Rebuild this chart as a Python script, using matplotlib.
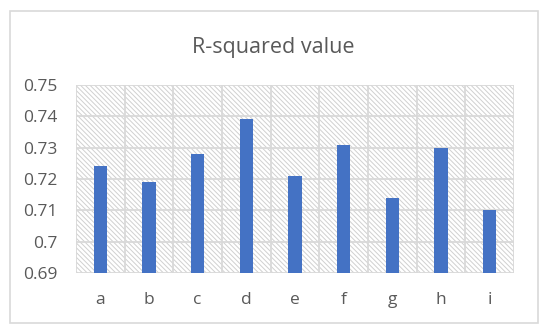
import numpy as np
import matplotlib.pyplot as plt
from matplotlib.patches import Rectangle

categories = ['a', 'b', 'c', 'd', 'e', 'f', 'g', 'h', 'i']
r2 = [0.724, 0.719, 0.728, 0.739, 0.721, 0.731, 0.714, 0.730, 0.710]
yticks = [0.69, 0.70, 0.71, 0.72, 0.73, 0.74, 0.75]
ylabels = ['0.69', '0.7', '0.71', '0.72', '0.73', '0.74', '0.75']

plt.rcParams['font.family'] = ['Open Sans', 'DejaVu Sans']
plt.rcParams['hatch.linewidth'] = 0.7
plt.rcParams['hatch.color'] = '#d0d0d0'

fig = plt.figure(figsize=(5.5, 3.35), dpi=100)
W, H = 550, 335
ax = fig.add_axes([76 / W, 1 - 273 / H, (514 - 76) / W, (273 - 85) / H])

# outer chart border
fig.patches.append(Rectangle((9.5 / W, 1 - 323 / H), (538 - 9.5) / W, (323 - 11) / H,
                             transform=fig.transFigure, fill=False,
                             edgecolor='#d9d9d9', linewidth=1.2))

x = np.arange(len(categories))
n = len(categories)
ax.set_xlim(-0.5, n - 0.5)
ax.set_ylim(0.69, 0.75)

# hatched plot-area background
ax.add_patch(Rectangle((0, 0), 1, 1, transform=ax.transAxes, facecolor='white',
                       edgecolor='#d0d0d0', hatch='\\' * 7, linewidth=0, zorder=0))

for yv in yticks:
    ax.axhline(yv, color='#d9d9d9', linewidth=1.3, zorder=1)
for xv in np.arange(-0.5, n, 1.0):
    ax.axvline(xv, color='#d9d9d9', linewidth=1.3, zorder=1)

ax.bar(x, [v - 0.69 for v in r2], bottom=0.69, width=0.27, color='#4472C4', zorder=3)

ax.set_xticks(x)
ax.set_xticklabels(categories)
ax.set_yticks(yticks)
ax.set_yticklabels(ylabels)
ax.tick_params(axis='both', length=0, labelsize=12.5, colors='#595959')
ax.tick_params(axis='x', pad=14)
ax.tick_params(axis='y', pad=13)
for s in ax.spines.values():
    s.set_visible(False)

fig.text(273 / W, 1 - 48 / H, 'R-squared value', ha='center', va='center',
         fontsize=15.5, color='#595959')

fig.savefig('out.png', dpi=100)
